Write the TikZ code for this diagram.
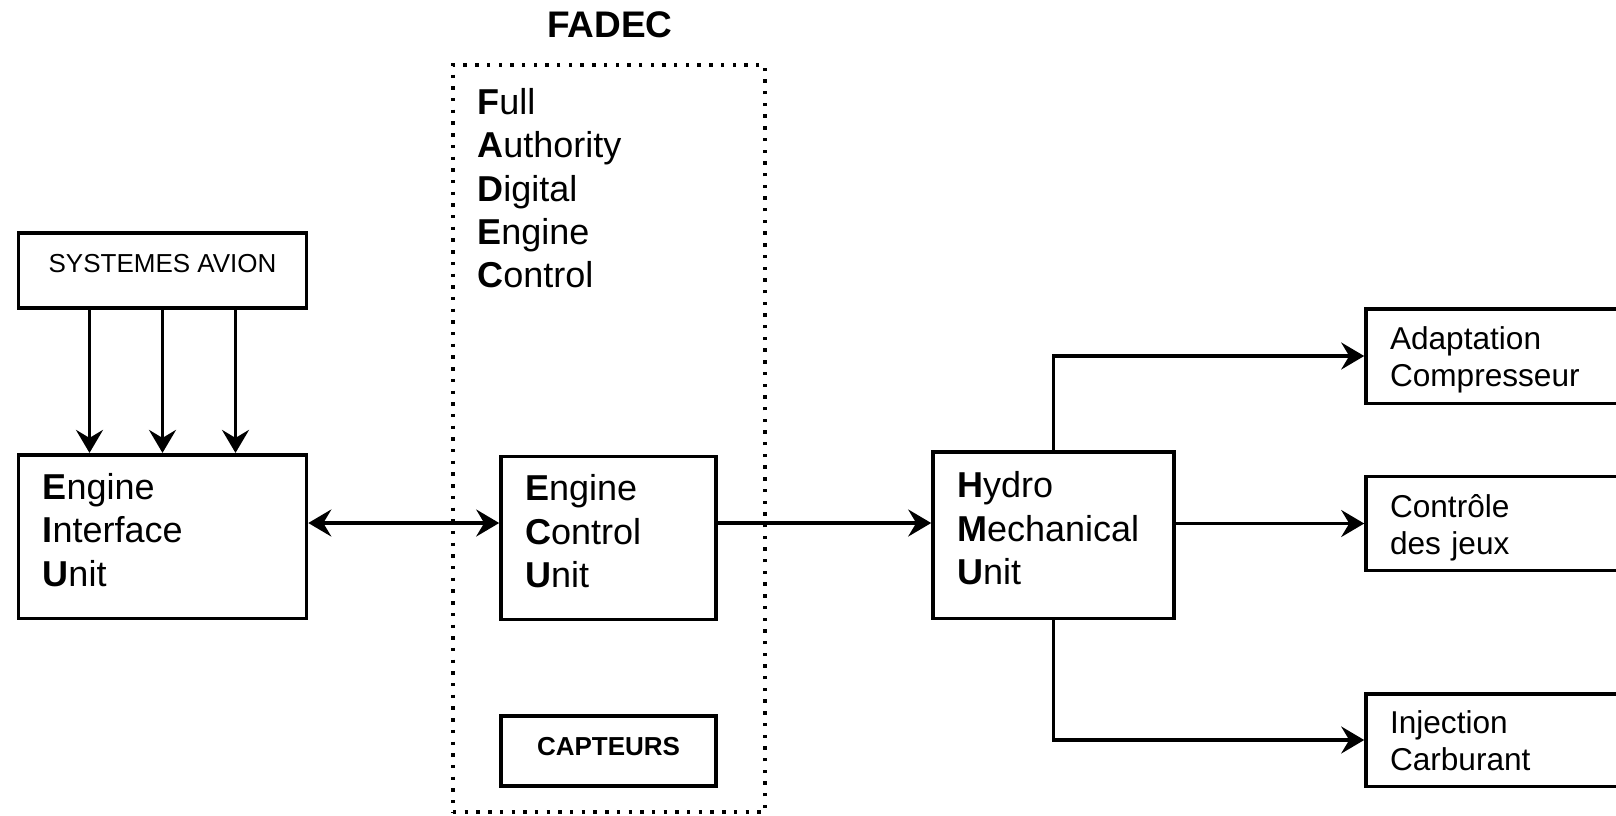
\documentclass[tikz,border=0pt]{standalone}
\usepackage{fontspec}
\setmainfont{Liberation Sans}
\usetikzlibrary{arrows.meta, positioning, calc}

\begin{document}
\begin{tikzpicture}[
    x=0.5pt, y=-0.5pt,
    >={Stealth[length=11.5pt, width=13.5pt, inset=4pt]},
    % Styles
    block/.style={draw, rectangle, line width=1.8pt, align=left, inner xsep=12pt, inner ysep=0pt, font=\fontsize{18}{21.75}\selectfont},
    unit/.style={block, text depth=50.5pt},
    outbox/.style={block, minimum width=167pt, text width=143pt, text depth=18pt, font=\fontsize{15.8}{18.5}\selectfont},
    small/.style={block, align=center, minimum width=144pt},
    wire/.style={->, line width=1.6pt},
    fadec_box/.style={draw, line width=1.7pt, dash pattern=on 1.7pt off 4.15pt, minimum width=156pt, minimum height=373.5pt}
]
    \useasboundingbox (0,0) rectangle (1616,815);

    % --- FADEC ---
    \node[font=\bfseries\fontsize{18.5}{21}\selectfont] (FADEC_title) at (610,25) {FADEC};
    \node[fadec_box] (FADEC_box) at (609,438.5) {};
    \node[anchor=north west, align=left, inner sep=0pt, font=\fontsize{18}{21.65}\selectfont] (FADEC_text) at (477,88)
        {\textbf{F}ull\\\textbf{A}uthority\\\textbf{D}igital\\\textbf{E}ngine\\\textbf{C}ontrol};

    % --- UNITS ---
    \node[unit, minimum width=144pt, text width=120pt, minimum height=81.8pt] (EIU) at (162.5,536.5)
        {\textbf{E}ngine\\\textbf{I}nterface\\\textbf{U}nit};
    \node[unit, minimum width=107.5pt, text width=83.5pt, minimum height=81.5pt] (ECU) at (608.5,538)
        {\textbf{E}ngine\\\textbf{C}ontrol\\\textbf{U}nit};
    \node[unit, minimum width=120.5pt, text width=96.5pt, minimum height=83.3pt] (HMU) at (1053.5,535)
        {\textbf{H}ydro\\\textbf{M}echanical\\\textbf{U}nit};

    % Systemes avion above EIU, capteurs below ECU
    \node[small, minimum height=37.5pt, text depth=7pt, font=\fontsize{13}{15}\selectfont, above=71.5pt of EIU] (AVION) {SYSTEMES AVION};
    \node[small, minimum width=107.5pt, minimum height=34.8pt, text depth=4pt, font=\bfseries\fontsize{13}{15}\selectfont, below=46.5pt of ECU] (CAPT) {CAPTEURS};

    % --- OUTPUTS (cut by the right edge) ---
    \node[outbox, minimum height=47.3pt] (ADAPT) at (1533,356) {Adaptation\\Compresseur};
    \node[outbox, minimum height=47pt] (JEUX) at (1533,523.5) {Contrôle\\des jeux};
    \node[outbox, minimum height=46.3pt] (INJ) at (1533,740) {Injection\\Carburant};

    % --- CONNECTIONS ---
    \foreach \dx in {-36.5, 0, 36.5}
        \draw[wire] ([xshift=\dx pt]AVION.south) -- ([xshift=\dx pt]EIU.north);

    \coordinate (link) at ([yshift=6.75pt]EIU.east);
    \draw[<->, line width=1.6pt] (link) -- (link -| ECU.west);
    \draw[wire] (link -| ECU.east) -- (link -| HMU.west);

    \draw[wire] (HMU.north) |- (ADAPT.west);
    \draw[wire] (HMU.east |- JEUX.west) -- (JEUX.west);
    \draw[wire] (HMU.south) |- (INJ.west);

\end{tikzpicture}
\end{document}
